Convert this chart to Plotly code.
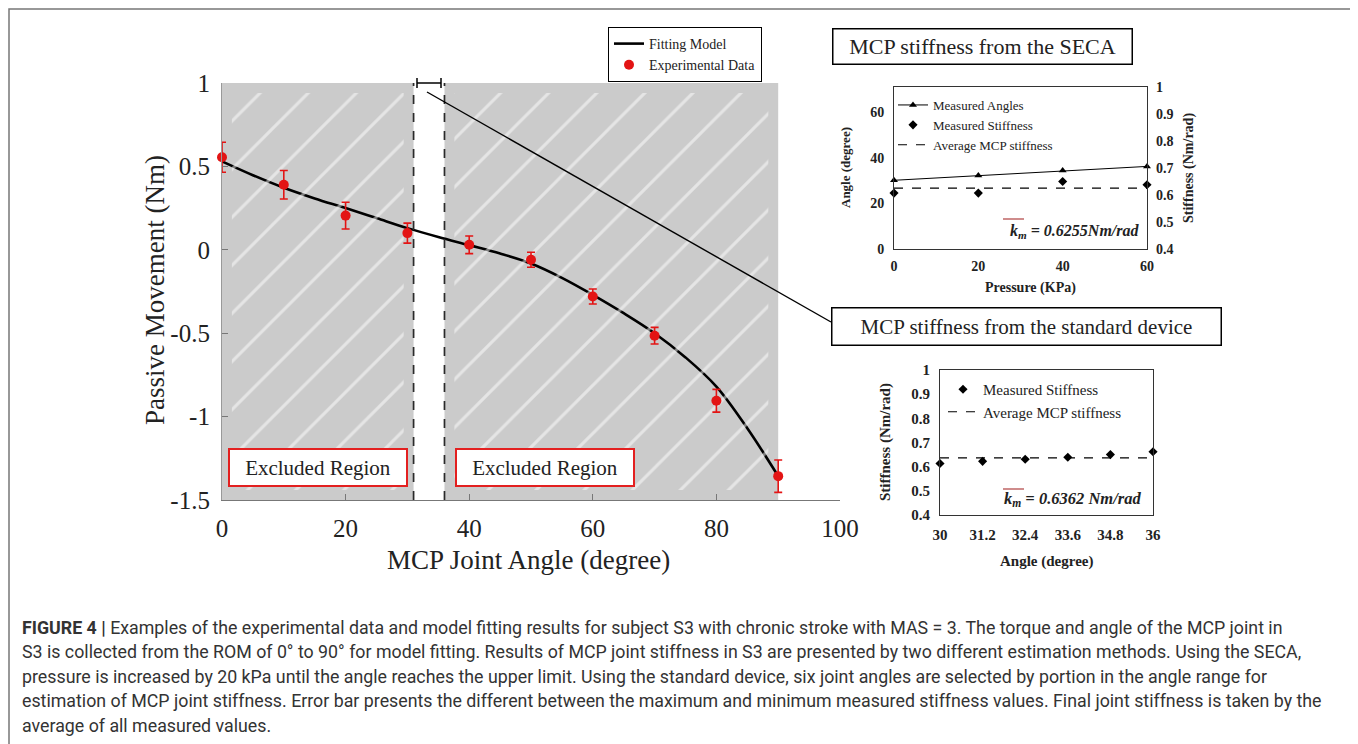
import plotly.graph_objects as go

# The page body adds an 8px margin, so the figure is sized to fill the rest of the window
OFF = 8
W, H = 1358 - OFF, 744 - OFF


def px(x):
    return (x - OFF) / W


def py(y):
    return 1 - (y - OFF) / H


SERIF = "Liberation Serif"
RED = "#e31414"
TXT = "#222222"

# ---------------- data ----------------
# main panel: passive movement vs MCP joint angle
angle_deg = [0, 10, 20, 30, 40, 50, 60, 70, 80, 90]
torque_nm = [0.555, 0.39, 0.205, 0.10, 0.03, -0.06, -0.28, -0.515, -0.905, -1.357]
torque_err = [0.09, 0.085, 0.08, 0.06, 0.053, 0.045, 0.045, 0.05, 0.068, 0.097]

fit_angle = [0, 5, 10, 15, 20, 25, 30, 35, 40, 45, 50, 55, 60, 65, 70, 75, 80, 85, 90]
fit_torque = [0.53, 0.447, 0.372, 0.308, 0.25, 0.19, 0.13, 0.077, 0.028, -0.022, -0.082,
              -0.168, -0.27, -0.38, -0.50, -0.645, -0.82, -1.07, -1.357]

excluded_regions = [(0, 31), (36, 90)]
main_x_ticks = [0, 20, 40, 60, 80, 100]
main_y_ticks = [1, 0.5, 0, -0.5, -1, -1.5]
main_y_ticktext = ["1", "0.5", "0", "-0.5", "-1", "-1.5"]

# inset 1: SECA
seca_pressure = [0, 20, 40, 60]
seca_angle = [30.2, 32.3, 34.5, 36.3]
seca_stiffness = [0.607, 0.607, 0.650, 0.638]
seca_avg = 0.6255
seca_angle_ticks = [0, 20, 40, 60]
stiff_ticks = [0.4, 0.5, 0.6, 0.7, 0.8, 0.9, 1.0]
stiff_ticktext = ["0.4", "0.5", "0.6", "0.7", "0.8", "0.9", "1"]

# inset 2: standard device
std_angle = [30, 31.2, 32.4, 33.6, 34.8, 36]
std_angle_ticktext = ["30", "31.2", "32.4", "33.6", "34.8", "36"]
std_stiffness = [0.613, 0.622, 0.631, 0.639, 0.650, 0.662]
std_avg = 0.6362

caption_lines = [
    "<b>FIGURE 4 |</b> Examples of the experimental data and model fitting results for subject S3 with chronic stroke with MAS = 3. The torque and angle of the MCP joint in",
    "S3 is collected from the ROM of 0° to 90° for model fitting. Results of MCP joint stiffness in S3 are presented by two different estimation methods. Using the SECA,",
    "pressure is increased by 20 kPa until the angle reaches the upper limit. Using the standard device, six joint angles are selected by portion in the angle range for",
    "estimation of MCP joint stiffness. Error bar presents the different between the maximum and minimum measured stiffness values. Final joint stiffness is taken by the",
    "average of all measured values.",
]

fig = go.Figure()

# ---------------- main panel ----------------
fig.add_trace(go.Scatter(
    x=fit_angle, y=fit_torque, mode="lines", name="Fitting Model",
    line=dict(color="black", width=2.6, shape="spline"),
    xaxis="x", yaxis="y", legend="legend"))

# hatch overlay on excluded regions (white diagonal lines)
mx, my = 1.6, 0.06
for (a, b) in excluded_regions:
    fig.add_trace(go.Scatter(
        x=[a + mx, b - mx, b - mx, a + mx, a + mx],
        y=[-1.5 + my, -1.5 + my, 1 - my, 1 - my, -1.5 + my],
        mode="lines", fill="toself", line=dict(width=0, color="rgba(0,0,0,0)"),
        fillcolor="rgba(0,0,0,0)",
        fillpattern=dict(shape="/", fgcolor="white", bgcolor="rgba(0,0,0,0)",
                         size=34, solidity=0.09, fillmode="overlay"),
        hoverinfo="skip", showlegend=False, xaxis="x", yaxis="y"))

fig.add_trace(go.Scatter(
    x=angle_deg, y=torque_nm, mode="markers", name="Experimental Data",
    marker=dict(color=RED, size=10),
    error_y=dict(type="data", array=torque_err, color=RED, thickness=1.6, width=4),
    cliponaxis=False, xaxis="x", yaxis="y", legend="legend"))

# ---------------- inset 1: SECA ----------------
fig.add_trace(go.Scatter(
    x=seca_pressure, y=seca_angle, mode="lines+markers", name="Measured Angles",
    line=dict(color="black", width=1),
    marker=dict(symbol="triangle-up", size=7, color="black"),
    cliponaxis=False, xaxis="x2", yaxis="y2", legend="legend2"))
fig.add_trace(go.Scatter(
    x=seca_pressure, y=seca_stiffness, mode="markers", name="Measured Stiffness",
    marker=dict(symbol="diamond", size=7, color="black"),
    cliponaxis=False, xaxis="x2", yaxis="y3", legend="legend2"))
fig.add_trace(go.Scatter(
    x=[seca_pressure[0], seca_pressure[-1]], y=[seca_avg, seca_avg], mode="lines",
    name="Average MCP stiffness",
    line=dict(color="black", width=1.2, dash="dash"),
    xaxis="x2", yaxis="y3", legend="legend2"))

# ---------------- inset 2: standard device ----------------
fig.add_trace(go.Scatter(
    x=std_angle, y=std_stiffness, mode="markers", name="Measured Stiffness",
    marker=dict(symbol="diamond", size=7, color="black"),
    cliponaxis=False, xaxis="x4", yaxis="y4", legend="legend3"))
fig.add_trace(go.Scatter(
    x=[std_angle[0], std_angle[-1]], y=[std_avg, std_avg], mode="lines",
    name="Average MCP stiffness",
    line=dict(color="black", width=1.2, dash="dash"),
    xaxis="x4", yaxis="y4", legend="legend3"))

# ---------------- shapes ----------------
shapes = []
for (a, b) in excluded_regions:
    shapes.append(dict(type="rect", xref="x", yref="y", x0=a, x1=b, y0=-1.5, y1=1,
                       fillcolor="#cbcbcb", line=dict(width=0), layer="below"))
# boundaries of the included window
for xv in (excluded_regions[0][1], excluded_regions[1][0]):
    shapes.append(dict(type="line", xref="x", yref="y", x0=xv, x1=xv, y0=-1.5, y1=1,
                       line=dict(color="#2a2a2a", width=1.7, dash="dash")))
# bracket above the window and callout connector
br = dict(color="black", width=1.5)
shapes += [
    dict(type="line", xref="paper", yref="paper", x0=px(417), x1=px(441), y0=py(83), y1=py(83), line=br),
    dict(type="line", xref="paper", yref="paper", x0=px(417), x1=px(417), y0=py(78), y1=py(88), line=br),
    dict(type="line", xref="paper", yref="paper", x0=px(441), x1=px(441), y0=py(78), y1=py(88), line=br),
    dict(type="line", xref="paper", yref="paper", x0=px(427), x1=px(831), y0=py(92), y1=py(322),
         line=dict(color="black", width=1.4)),
    # overlines on k_m
    dict(type="line", xref="paper", yref="paper", x0=px(1003), x1=px(1024), y0=py(219), y1=py(219),
         line=dict(color="#b04040", width=1.2)),
    dict(type="line", xref="paper", yref="paper", x0=px(1003), x1=px(1024), y0=py(489), y1=py(489),
         line=dict(color="#b04040", width=1.2)),
    # outer frame
    dict(type="rect", xref="paper", yref="paper", x0=px(9), x1=px(1352), y0=-0.05, y1=py(9),
         line=dict(color="#777777", width=1.5), fillcolor="rgba(0,0,0,0)"),
]

# ---------------- annotations ----------------
ann = []


def note(x, y, text, **kw):
    d = dict(x=px(x), y=py(y), xref="paper", yref="paper", text=text, showarrow=False,
             xanchor="center", yanchor="middle")
    d.update(kw)
    ann.append(d)


note(155, 290, "Passive Movement (Nm)", textangle=-90, font=dict(family=SERIF, size=27, color=TXT))
note(528, 560, "MCP Joint Angle (degree)", font=dict(family=SERIF, size=27, color=TXT))
for cx in (318, 545):
    note(cx, 467, "Excluded Region", font=dict(family=SERIF, size=21, color=TXT),
         bordercolor="#e32020", borderwidth=2, borderpad=4, bgcolor="white", width=168, height=27)
note(982, 47, "MCP stiffness from the SECA", font=dict(family=SERIF, size=22, color=TXT),
     bordercolor="black", borderwidth=1.5, borderpad=3, bgcolor="white", width=292, height=28)
note(1026, 326, "MCP stiffness from the standard device", font=dict(family=SERIF, size=21, color=TXT),
     bordercolor="black", borderwidth=1.5, borderpad=3, bgcolor="white", width=382, height=30)
# inset 1 titles
note(846, 168, "<b>Angle (degree)</b>", textangle=-90, font=dict(family=SERIF, size=13, color=TXT))
note(1189, 168, "<b>Stiffness (Nm/rad)</b>", textangle=-90, font=dict(family=SERIF, size=14, color=TXT))
note(1030, 288, "<b>Pressure (KPa)</b>", font=dict(family=SERIF, size=14, color=TXT))
note(1141, 231, "<b><i>k<sub>m</sub> = %.4fNm/rad</i></b>" % seca_avg, xanchor="right",
     font=dict(family=SERIF, size=16, color=TXT))
# inset 2 titles
note(885, 442, "<b>Stiffness (Nm/rad)</b>", textangle=-90, font=dict(family=SERIF, size=15, color=TXT))
note(1046, 561, "<b>Angle (degree)</b>", font=dict(family=SERIF, size=15, color=TXT))
note(1143, 499, "<b><i>k<sub>m</sub> = %.4f Nm/rad</i></b>" % std_avg, xanchor="right",
     font=dict(family=SERIF, size=16.5, color=TXT))
# caption
cap_y = [627, 651, 676, 700, 725]
for line, yy in zip(caption_lines, cap_y):
    note(20, yy, line, xanchor="left", font=dict(family="Roboto", size=17.8, color="#333333"))

# ---------------- layout ----------------
serif_tick = dict(family=SERIF, size=25, color=TXT)
bold14 = dict(family=SERIF, size=14, color=TXT, weight="bold")
bold15 = dict(family=SERIF, size=15, color=TXT, weight="bold")

fig.update_layout(
    width=W, height=H, margin=dict(l=0, r=0, t=0, b=0, pad=0, autoexpand=False),
    paper_bgcolor="white", plot_bgcolor="rgba(0,0,0,0)",
    shapes=shapes, annotations=ann,
    xaxis=dict(domain=[px(222), px(840)], range=[0, 100], tickvals=main_x_ticks,
               ticks="inside", ticklen=6, tickcolor="#777", showline=True, linecolor="#777",
               linewidth=1.2, showgrid=False, zeroline=False, tickfont=serif_tick,
               anchor="y", ticklabelstandoff=6),
    yaxis=dict(domain=[py(500), py(83)], range=[-1.5, 1], tickvals=main_y_ticks,
               ticktext=main_y_ticktext, ticks="inside", ticklen=6, tickcolor="#777",
               showline=True, linecolor="#999", linewidth=1.2, showgrid=False, zeroline=False,
               tickfont=serif_tick, anchor="x", ticklabelstandoff=6),
    xaxis2=dict(domain=[px(894), px(1147)], range=[0, 60], tickvals=seca_angle_ticks,
                ticks="", showline=True, mirror=True, linecolor="#333", linewidth=1,
                showgrid=False, zeroline=False, tickfont=bold14, anchor="y2",
                ticklabelstandoff=4),
    yaxis2=dict(domain=[py(249), py(87)], range=[0, 71.2], tickvals=seca_angle_ticks,
                ticks="", showline=True, mirror=True, linecolor="#333", linewidth=1,
                showgrid=False, zeroline=False, tickfont=bold14, anchor="x2",
                ticklabelstandoff=6),
    yaxis3=dict(overlaying="y2", side="right", range=[0.4, 1.0], tickvals=stiff_ticks,
                ticktext=stiff_ticktext, ticks="", showline=False, showgrid=False,
                zeroline=False, tickfont=bold14, anchor="x2", ticklabelstandoff=8),
    xaxis4=dict(domain=[px(940), px(1153)], range=[30, 36], tickvals=std_angle,
                ticktext=std_angle_ticktext,
                ticks="", showline=True, mirror=True, linecolor="#333", linewidth=1,
                showgrid=False, zeroline=False, tickfont=bold15,
                anchor="y4", ticklabelstandoff=6),
    yaxis4=dict(domain=[py(515), py(370)], range=[0.4, 1.0], tickvals=stiff_ticks,
                ticktext=stiff_ticktext, ticks="", showline=True, mirror=True, linecolor="#333",
                linewidth=1, showgrid=False, zeroline=False, tickfont=bold15,
                anchor="x4", ticklabelstandoff=6),
    legend=dict(x=px(608), y=py(27), xanchor="left", yanchor="top", bordercolor="black",
                borderwidth=1, bgcolor="white", font=dict(family=SERIF, size=14, color=TXT),
                itemwidth=30, tracegroupgap=0, entrywidth=125, entrywidthmode="pixels"),
    legend2=dict(x=px(893), y=py(90), xanchor="left", yanchor="top", borderwidth=0,
                 bgcolor="rgba(0,0,0,0)", font=dict(family=SERIF, size=13, color=TXT),
                 itemwidth=30, tracegroupgap=0),
    legend3=dict(x=px(943), y=py(373), xanchor="left", yanchor="top", borderwidth=0,
                 bgcolor="rgba(0,0,0,0)", font=dict(family=SERIF, size=15, color=TXT),
                 itemwidth=30, tracegroupgap=0),
    showlegend=True,
)

fig.write_html("out.html")
